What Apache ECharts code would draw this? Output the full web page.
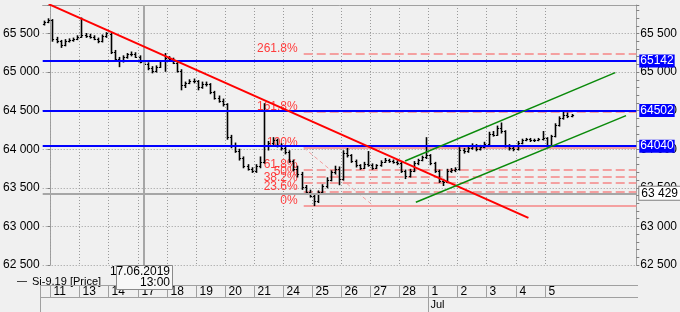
<!DOCTYPE html>
<html><head><meta charset="utf-8">
<script src="https://cdn.jsdelivr.net/npm/echarts@6/dist/echarts.min.js"></script>
<style>html,body{margin:0;padding:0;background:#f0f0f0;}#c{width:680px;height:312px;}</style>
</head><body><div id="c"></div>
<script>
// ---- data ----
const dayLabels = ['11','13','14','17','18','19','20','21','24','25','26','27','28','1','2','3','4','5'];
const monthLabels = {13: 'Jul'};
const BARS_PER_DAY = 7;
const FIRST_BAR_POS = -2; // first two bars belong to 10 June
const barOpen = [65620,65650,
65670,65430,65400,65350,65400,65415,65430,
65460,65480,65470,65460,65430,65400,65470,
65490,65260,65170,65140,65190,65230,65240,
65200,65130,65110,65050,65010,65070,65140,
65180,65170,65120,65020,64830,64860,64890,
64880,64800,64850,64840,64740,64670,64630,
64580,64160,64060,63980,63880,63780,63750,
63720,63780,63840,64050,64080,64120,64050,
64020,63960,63850,63740,63680,63510,63450,
63400,63330,63440,63520,63600,63700,63750,
63620,63950,63920,63850,63790,63760,63810,
63800,63760,63790,63840,63860,63850,63840,
63820,63720,63650,63720,63820,63860,63900,
63920,63820,63720,63590,63580,63720,63730,
63740,63990,63980,64020,64050,64000,64030,
64070,64200,64190,64280,64230,64050,64010,
64000,64080,64120,64130,64115,64120,64130,
64140,64060,64170,64310,64400,64450,64430];
const barHigh = [65660,65690,
65680,65450,65410,65420,65430,65440,65470,
65700,65500,65490,65470,65440,65480,65510,
65500,65280,65190,65210,65240,65260,65250,
65210,65150,65120,65070,65080,65150,65240,
65200,65180,65130,65030,64870,64900,64910,
64890,64870,64870,64850,64750,64690,64650,
64590,64180,64080,64000,63900,63800,63760,
63800,63900,64590,64100,64150,64130,64070,
64040,63980,63860,63780,63700,63530,63470,
63420,63460,63540,63630,63720,63780,63770,
63980,64010,63930,63860,63800,63830,63970,
63810,63800,63850,63880,63870,63860,63850,
63830,63730,63740,63840,63870,63910,64150,
63930,63830,63730,63610,63740,63750,63760,
64020,64010,64030,64070,64060,64050,64090,
64220,64230,64300,64340,64240,64060,64030,
64100,64130,64140,64140,64130,64140,64230,
64150,64180,64330,64420,64500,64470,64450];
const barLow = [65610,65640,
65400,65380,65320,65340,65390,65400,65420,
65450,65450,65440,65420,65380,65390,65450,
65240,65150,65070,65130,65180,65210,65190,
65120,65100,65030,64990,65000,65060,65010,
65150,65110,65000,64770,64800,64850,64860,
64770,64790,64820,64720,64650,64610,64560,
64130,64020,63960,63860,63760,63730,63700,
63700,63760,63820,63990,64060,64030,63990,
63940,63830,63720,63640,63480,63430,63380,
63270,63310,63420,63500,63590,63680,63540,
63600,63900,63830,63770,63740,63750,63780,
63740,63750,63780,63830,63830,63820,63800,
63700,63620,63640,63710,63800,63850,63880,
63800,63700,63570,63530,63570,63700,63710,
63730,63950,63960,64000,63980,63990,64020,
64060,64170,64180,64210,64030,63990,63980,
63990,64070,64110,64100,64100,64110,64120,
64030,64050,64160,64300,64390,64410,64420];
const barClose = [65650,65675,
65430,65400,65350,65400,65415,65430,65455,
65480,65470,65460,65430,65400,65470,65500,
65260,65170,65140,65190,65230,65240,65200,
65130,65110,65050,65010,65070,65140,65180,
65170,65120,65020,64830,64860,64890,64880,
64800,64850,64840,64740,64670,64630,64580,
64160,64060,63980,63880,63780,63750,63720,
63780,63840,64050,64080,64120,64050,64020,
63960,63850,63740,63680,63510,63450,63400,
63330,63440,63520,63600,63700,63750,63620,
63950,63920,63850,63790,63760,63810,63800,
63760,63790,63840,63860,63850,63840,63820,
63720,63650,63720,63820,63860,63900,63920,
63820,63720,63590,63580,63720,63730,63740,
63990,63980,64020,64050,64000,64030,64070,
64200,64190,64280,64230,64050,64010,64000,
64080,64120,64130,64115,64120,64130,64140,
64060,64170,64310,64400,64450,64430,64443];
const hLevels = [65142, 64502, 64040];
const fibLow = 63269, fibHigh = 64021;
const fibLevels = [0, 23.6, 38.2, 50, 61.8, 100, 161.8, 261.8];
const fibAnchorX = [61.0, 77.75];
const redTrend = [[-0.4, 65880], [115.1, 63110]];
const greenUpper = [[85.4, 63847], [136.0, 64992]];
const greenLower = [[88.0, 63313], [138.6, 64435]];
const crossX = 22.5, crossY = 63429, crossDate = '17.06.2019', crossTime = '13:00';
const lastPrice = 64443;
const Y_MIN = 62500, Y_MAX = 65869, X_MIN = -1.84, X_MAX = 141.07;
const seriesName = 'Si-9.19 [Price]';

// ---- chart ----
const FONT = '"Liberation Sans", Arial, sans-serif';
const fmt = v => String(Math.round(v)).replace(/\B(?=(\d{3})+(?!\d))/g, ' ');
const G = {left: 40, top: 5, width: 598, height: 260};
const chart = echarts.init(document.getElementById('c'));
const bars = barOpen.map((o, i) => [i + FIRST_BAR_POS + 0.5, o, barHigh[i], barLow[i], barClose[i]]);

function renderOHLC(params, api) {
  const x = api.value(0);
  const pO = api.coord([x, api.value(1)]);
  const pH = api.coord([x, api.value(2)]);
  const pL = api.coord([x, api.value(3)]);
  const pC = api.coord([x, api.value(4)]);
  const cx = Math.round(pH[0]) + 0.5;
  const yo = Math.round(pO[1]) + 0.5, yc = Math.round(pC[1]) + 0.5;
  return {type: 'group', children: [
    {type: 'line', shape: {x1: cx, y1: pH[1] - 0.5, x2: cx, y2: pL[1] + 0.5}, style: {stroke: '#000', lineWidth: 1.6}},
    {type: 'line', shape: {x1: cx - 1.6, y1: yo, x2: cx, y2: yo}, style: {stroke: '#000', lineWidth: 1}},
    {type: 'line', shape: {x1: cx, y1: yc, x2: cx + 1.6, y2: yc}, style: {stroke: '#000', lineWidth: 1}}
  ]};
}

function renderDay(params, api) {
  const k = api.value(1);
  const x = Math.round(api.coord([api.value(0), Y_MIN])[0]) + 0.5;
  const cs = params.coordSys;
  const top = cs.y, bot = cs.y + cs.height;
  const ch = [
    {type: 'line', shape: {x1: x, y1: top, x2: x, y2: bot}, style: {stroke: '#9a9a9a', lineWidth: 1, lineDash: [1, 2]}},
    {type: 'line', shape: {x1: x, y1: bot + 20, x2: x, y2: bot + 32}, style: {stroke: '#a0a0a0', lineWidth: 1}},
    {type: 'text', x: x + 3, y: bot + 26.5, style: {text: dayLabels[k], fill: '#000', fontSize: 12, fontFamily: FONT, align: 'left', verticalAlign: 'middle'}}
  ];
  if (monthLabels[k]) {
    ch.push({type: 'line', shape: {x1: x, y1: bot + 32, x2: x, y2: bot + 47}, style: {stroke: '#a0a0a0', lineWidth: 1}});
    ch.push({type: 'text', x: x + 2, y: bot + 40, style: {text: monthLabels[k], fill: '#000', fontSize: 11, fontFamily: FONT, align: 'left', verticalAlign: 'middle'}});
  }
  return {type: 'group', children: ch};
}

function renderFib(params, api) {
  const pct = api.value(0), v = api.value(1);
  const p0 = api.coord([fibAnchorX[0], v]);
  const p1 = api.coord([X_MAX, v]);
  const y = Math.round(p0[1]);
  const solid = pct === 0 || pct === 100;
  return {type: 'group', children: [
    {type: 'line', shape: {x1: p0[0], y1: y, x2: p1[0], y2: y}, style: {stroke: '#f4a0a0', lineWidth: 2, lineDash: solid ? null : [9, 4]}},
    {type: 'text', x: p0[0] - 6, y: y - 5.5, style: {text: pct + '%', fill: '#ff3c3c', fontSize: 12, fontFamily: FONT, align: 'right', verticalAlign: 'middle'}}
  ]};
}

const yLabelFmt = v => (v % 500 === 0 ? fmt(v) : '');
const option = {
  animation: false,
  backgroundColor: '#f0f0f0',
  textStyle: {fontFamily: FONT},
  grid: Object.assign({containLabel: false}, G),
  legend: {data: [seriesName], left: 12, top: 271, icon: 'rect', itemWidth: 10, itemHeight: 1,
    textStyle: {fontSize: 11, color: '#000', fontFamily: FONT}, itemStyle: {color: '#444'}},
  xAxis: {type: 'value', min: X_MIN, max: X_MAX, position: 'top',
    axisLine: {show: true, onZero: false, lineStyle: {color: '#a0a0a0'}},
    axisTick: {show: false}, axisLabel: {show: false}, splitLine: {show: false}},
  yAxis: [
    {type: 'value', position: 'left', min: Y_MIN, max: Y_MAX, interval: 500,
      axisLine: {show: true, lineStyle: {color: '#a0a0a0'}},
      axisTick: {show: true, length: 3, lineStyle: {color: '#808080'}},
      axisLabel: {formatter: yLabelFmt, margin: 3, fontSize: 12, color: '#000', fontFamily: FONT},
      splitLine: {show: true, lineStyle: {color: '#9a9a9a', type: [1, 2], width: 1}}},
    {type: 'value', position: 'right', min: Y_MIN, max: Y_MAX, interval: 100,
      axisLine: {show: true, lineStyle: {color: '#a0a0a0'}},
      axisTick: {show: true, length: 3, lineStyle: {color: '#808080'}},
      axisLabel: {formatter: yLabelFmt, margin: 4, fontSize: 12, color: '#000', fontFamily: FONT, interval: 0},
      splitLine: {show: false}}
  ],
  series: [
    {type: 'custom', name: 'days', silent: true, clip: false, z: 1,
      data: dayLabels.map((d, k) => [k * BARS_PER_DAY, k]), encode: {x: 0}, renderItem: renderDay},
    {type: 'custom', name: 'fib', silent: true, clip: true, z: 2,
      data: fibLevels.map(p => [p, fibLow + p / 100 * (fibHigh - fibLow)]), encode: {y: 1}, renderItem: renderFib},
    {type: 'line', name: 'fibDiag', silent: true, symbol: 'none', z: 2,
      data: [[fibAnchorX[0], fibHigh], [fibAnchorX[1], fibLow]],
      lineStyle: {color: '#f4a0a0', width: 1, type: [4, 3]}},
    {type: 'line', name: 'lastPrice', data: [], silent: true, z: 3,
      markLine: {silent: true, symbol: ['none', 'none'], animation: false,
        lineStyle: {width: 0, opacity: 0},
        label: {show: true, position: 'end', distance: 3, formatter: () => fmt(lastPrice), color: '#000', fontSize: 12,
          backgroundColor: '#f8f8f8', borderColor: '#808080', borderWidth: 1, padding: [1, 2, 0, 2]},
        data: [{yAxis: lastPrice}]}},
    {type: 'line', name: 'cross', data: [], silent: true, z: 3,
      markLine: {silent: true, symbol: ['none', 'none'], animation: false,
        lineStyle: {color: '#a6a6a6', width: 2, type: 'solid'},
        label: {show: false},
        data: [{xAxis: crossX},
          {yAxis: crossY, label: {show: true, position: 'end', distance: 3, formatter: () => fmt(crossY), color: '#000', fontSize: 12,
            backgroundColor: '#ffffff', borderColor: '#808080', borderWidth: 1, padding: [1, 2, 0, 2]}}]}},
    {type: 'custom', name: seriesName, clip: true, z: 4, itemStyle: {color: '#444'},
      data: bars, encode: {x: 0, y: [1, 2, 3, 4]}, renderItem: renderOHLC},
    {type: 'line', name: 'red', silent: true, symbol: 'none', z: 5, data: redTrend, lineStyle: {color: '#ff0000', width: 2}},
    {type: 'line', name: 'g1', silent: true, symbol: 'none', z: 5, data: greenUpper, lineStyle: {color: '#0a8a0a', width: 1.5}},
    {type: 'line', name: 'g2', silent: true, symbol: 'none', z: 5, data: greenLower, lineStyle: {color: '#0a8a0a', width: 1.5}},
    {type: 'line', name: 'levels', data: [], silent: true, z: 6,
      markLine: {silent: true, symbol: ['none', 'none'], animation: false,
        lineStyle: {color: '#0000ff', width: 2, type: 'solid'},
        label: {show: true, position: 'end', distance: 3, color: '#fff', fontSize: 12, backgroundColor: '#0000ff', padding: [1, 1, 0, 1]},
        data: hLevels.map(v => ({yAxis: v, label: {formatter: String(v)}}))}}
  ]
};
chart.setOption(option);

// crosshair date box and bottom strip frame
const cp = chart.convertToPixel({xAxisIndex: 0, yAxisIndex: 0}, [crossX, Y_MIN]);
const gb = G.top + G.height, gr = G.left + G.width;
chart.setOption({graphic: [
  {type: 'line', shape: {x1: G.left, y1: gb + 20.5, x2: gr, y2: gb + 20.5}, style: {stroke: '#a0a0a0', lineWidth: 1}, z: 10},
  {type: 'line', shape: {x1: G.left, y1: gb + 32.5, x2: gr, y2: gb + 32.5}, style: {stroke: '#a0a0a0', lineWidth: 1}, z: 10},
  {type: 'line', shape: {x1: G.left + 0.5, y1: gb + 20, x2: G.left + 0.5, y2: 312}, style: {stroke: '#a0a0a0', lineWidth: 1}, z: 10},
  {type: 'rect', shape: {x: Math.round(cp[0] - 28) + 0.5, y: gb + 0.5, width: 56, height: 24}, style: {fill: '#f7f7f7', stroke: '#8a8a8a', lineWidth: 1}, z: 20},
  {type: 'text', x: Math.round(cp[0] - 28) + 54, y: gb + 1.5, style: {text: crossDate + '\n' + crossTime, fill: '#000', fontSize: 12, fontFamily: FONT, align: 'right', verticalAlign: 'top', lineHeight: 11}, z: 21}
]});
</script></body></html>
